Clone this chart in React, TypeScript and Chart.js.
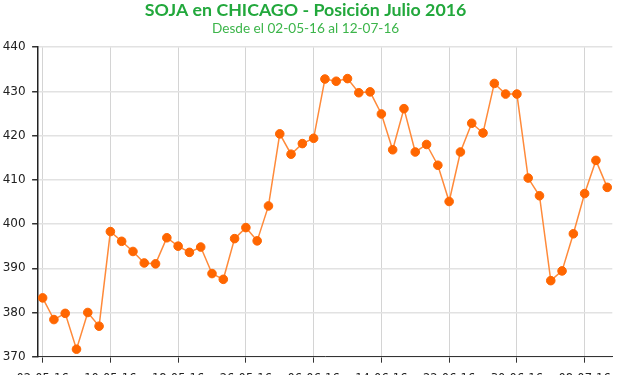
import React, { useEffect, useRef } from "react";
import { Chart, registerables } from "chart.js";

Chart.register(...registerables);

const titleText = "SOJA en CHICAGO - Posición Julio 2016";
const subtitleText = "Desde el 02-05-16 al 12-07-16";

const dates: string[] = [
  "02-05-16", "03-05-16", "04-05-16", "05-05-16", "06-05-16", "09-05-16", "10-05-16",
  "11-05-16", "12-05-16", "13-05-16", "16-05-16", "17-05-16", "18-05-16", "19-05-16",
  "20-05-16", "23-05-16", "24-05-16", "25-05-16", "26-05-16", "27-05-16", "31-05-16",
  "01-06-16", "02-06-16", "03-06-16", "06-06-16", "07-06-16", "08-06-16", "09-06-16",
  "10-06-16", "13-06-16", "14-06-16", "15-06-16", "16-06-16", "17-06-16", "20-06-16",
  "21-06-16", "22-06-16", "23-06-16", "24-06-16", "27-06-16", "28-06-16", "29-06-16",
  "30-06-16", "01-07-16", "04-07-16", "05-07-16", "06-07-16", "07-07-16", "08-07-16",
  "11-07-16", "12-07-16",
];

const prices: number[] = [
  383.3, 378.4, 379.8, 371.7, 380.0, 376.9, 398.3, 396.1, 393.8, 391.2,
  391.0, 396.9, 395.0, 393.6, 394.8, 388.8, 387.5, 396.7, 399.2, 396.2,
  404.1, 420.4, 415.8, 418.2, 419.4, 432.8, 432.3, 432.9, 429.7, 429.9,
  424.9, 416.8, 426.1, 416.3, 418.0, 413.3, 405.1, 416.3, 422.8, 420.6,
  431.8, 429.4, 429.4, 410.4, 406.4, 387.2, 389.4, 397.8, 406.9, 414.4,
  408.3,
];

const xTickIndices: number[] = [0, 6, 12, 18, 24, 30, 36, 42, 48];
const yTicks: number[] = [370, 380, 390, 400, 410, 420, 430, 440];

export default function App() {
  const ref = useRef<HTMLCanvasElement | null>(null);

  useEffect(() => {
    if (!ref.current) return;
    const chart = new Chart(ref.current, {
      type: "line",
      data: {
        datasets: [
          {
            data: prices.map((p, i) => ({ x: i, y: p })),
            borderColor: "#ff8a3a",
            borderWidth: 1.5,
            backgroundColor: "#ff6600",
            pointBackgroundColor: "#ff6600",
            pointBorderColor: "#ff6600",
            pointRadius: 4.3,
            pointBorderWidth: 1,
            tension: 0,
          },
        ],
      },
      options: {
        animation: false,
        responsive: true,
        maintainAspectRatio: false,
        layout: { padding: { left: -3.8, right: 5, top: 0, bottom: 0 } },
        plugins: {
          legend: { display: false },
          tooltip: { enabled: false },
          title: {
            display: true,
            text: titleText,
            color: "#22a83c",
            font: { family: "Lato", size: 17.8, weight: "bold", lineHeight: 1.1 },
            padding: { top: 0, bottom: 1 },
          },
          subtitle: {
            display: true,
            text: subtitleText,
            color: "#3cb54a",
            font: { family: "Lato", size: 13.6, weight: "normal", lineHeight: 1.2 },
            padding: { top: 0, bottom: 10.3 },
          },
        },
        scales: {
          x: {
            type: "linear",
            min: -0.4,
            max: 50.45,
            afterBuildTicks: (axis: any) => {
              axis.ticks = xTickIndices.map((v) => ({ value: v }));
            },
            afterFit: (axis: any) => {
              axis.height = 18.3;
            },
            ticks: {
              autoSkip: false,
              maxRotation: 0,
              minRotation: 0,
              padding: 9,
              color: "#222",
              font: { family: "'DejaVu Sans'", size: 11.5 },
              callback: (v: any) => dates[Number(v)] ?? "",
            },
            grid: {
              color: "#d4d4d4",
              lineWidth: 1,
              tickColor: "#333",
              tickLength: 6,
            },
            border: { color: "#333", width: 1 },
          },
          y: {
            min: 370,
            max: 440,
            afterBuildTicks: (axis: any) => {
              axis.ticks = yTicks.map((v) => ({ value: v }));
            },
            ticks: {
              padding: 6.5,
              color: "#222",
              font: { family: "'DejaVu Sans'", size: 12 },
            },
            grid: {
              color: "#e2e2e2",
              lineWidth: 1.5,
              tickColor: "#333",
              tickLength: 6,
            },
            border: { color: "#222", width: 1.5 },
          },
        },
      },
    });
    return () => chart.destroy();
  }, []);

  return (
    <div style={{ position: "absolute", left: 0, top: 0, width: 620, height: 375 }}>
      <canvas ref={ref} />
    </div>
  );
}
